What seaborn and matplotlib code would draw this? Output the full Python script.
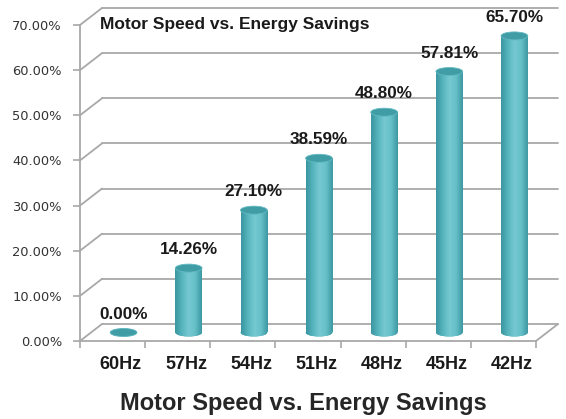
import numpy as np
import pandas as pd
import matplotlib
matplotlib.use('Agg')
import matplotlib.pyplot as plt
from matplotlib.patches import Ellipse
from matplotlib.colors import LinearSegmentedColormap
import seaborn as sns

# data
speeds = ['60Hz', '57Hz', '54Hz', '51Hz', '48Hz', '45Hz', '42Hz']
savings = [0.0, 14.26, 27.10, 38.59, 48.80, 57.81, 65.70]
y_ticks = [0, 10, 20, 30, 40, 50, 60, 70]
title = 'Motor Speed vs. Energy Savings'

df = pd.DataFrame({'speed': speeds, 'saving': savings})

sns.set_style('white')
plt.rcParams['font.family'] = ['Liberation Sans', 'DejaVu Sans']

fig = plt.figure(figsize=(5.66, 4.19), dpi=100)
ax = fig.add_axes([80 / 566, 78 / 419, 456 / 566, 316 / 419])

bar_w = 0.41
sns.barplot(data=df, x='speed', y='saving', color='#55b5be', width=bar_w,
            ax=ax, zorder=3, linewidth=0)

ax.set_xlim(-0.5, 6.5)
ax.set_ylim(0, 70)

# depth offset of the pseudo-3D box, in data units
px_x = 456 / 7
px_y = 316 / 70
dx, dy = 22 / px_x, 17 / px_y
grid_c = '#a8a8a8'
lw = 1.3

# back wall grid lines and left wall diagonals
for t in y_ticks:
    ax.plot([-0.5 + dx, 6.5 + dx], [t + dy, t + dy], color=grid_c, lw=lw,
            clip_on=False, zorder=1)
    ax.plot([-0.5, -0.5 + dx], [t, t + dy], color=grid_c, lw=lw,
            clip_on=False, zorder=1)
# floor front edge, right diagonal, y axis
ax.plot([-0.5, 6.5], [0, 0], color=grid_c, lw=lw, clip_on=False, zorder=2)
ax.plot([6.5, 6.5 + dx], [0, dy], color=grid_c, lw=lw, clip_on=False, zorder=2)
ax.plot([-0.5, -0.5], [0, 70], color=grid_c, lw=lw, clip_on=False, zorder=2)

# cylinder shading
cyl = LinearSegmentedColormap.from_list(
    'cyl', ['#3a96a0', '#56b4bd', '#76c9d0', '#66c0c8', '#3c98a2'])
grad = np.linspace(0, 1, 64).reshape(1, -1)
eh = 8 / px_y

for bar, val in zip(ax.patches, savings):
    x0 = bar.get_x() + dx / 2
    y0 = dy / 2
    bar.set_x(x0)
    bar.set_y(y0)
    cx = x0 + bar_w / 2
    bottom = Ellipse((cx, y0), bar_w, eh, facecolor='#55b5be', lw=0,
                     zorder=3)
    ax.add_patch(bottom)
    if val > 0:
        for clip in (bar, bottom):
            im = ax.imshow(grad, cmap=cyl, aspect='auto', zorder=3.5,
                           extent=(x0, x0 + bar_w, y0 - eh, y0 + val),
                           interpolation='bicubic')
            im.set_clip_path(clip)
    ax.add_patch(Ellipse((cx, y0 + val), bar_w, eh, facecolor='#409da6',
                         edgecolor='#62b9c1', lw=0.6, zorder=4))
    ax.annotate(f'{val:.2f}%', (cx, y0 + val + eh / 2), xytext=(0, 5),
                textcoords='offset points', ha='center', va='bottom',
                fontsize=12.3, fontweight='bold', color='#1a1a1a', zorder=5)

ax.set_xlim(-0.5, 6.5)
ax.set_ylim(0, 70)

for s in ax.spines.values():
    s.set_visible(False)

ax.set_yticks(y_ticks)
ax.set_yticklabels([f'{t:.2f}%' for t in y_ticks], family='DejaVu Sans',
                   fontsize=9.4, color='#333333')
ax.tick_params(axis='y', left=True, length=5, width=1.2, color=grid_c, pad=8)

# category labels, ticks between categories
ax.set_xticks(np.arange(-0.5, 7, 1))
ax.set_xticklabels([])
ax.tick_params(axis='x', bottom=True, length=5, width=1.2, color=grid_c)
for i, s in enumerate(speeds):
    ax.annotate(s, (i, 0), xytext=(6, -11), textcoords='offset points',
                ha='center', va='top', fontsize=13, fontweight='bold',
                color='#1a1a1a', annotation_clip=False)
ax.set_xlabel('')
ax.set_ylabel('')

ax.text(100 / 566, 1 - 24 / 419, title, transform=fig.transFigure,
        fontsize=12.5, fontweight='bold', color='#1a1a1a', va='center')
fig.text(303 / 566, 1 - 403 / 419, title, ha='center', va='center',
         fontsize=17, fontweight='bold', color='#262626')

fig.savefig('out.png', dpi=100)
